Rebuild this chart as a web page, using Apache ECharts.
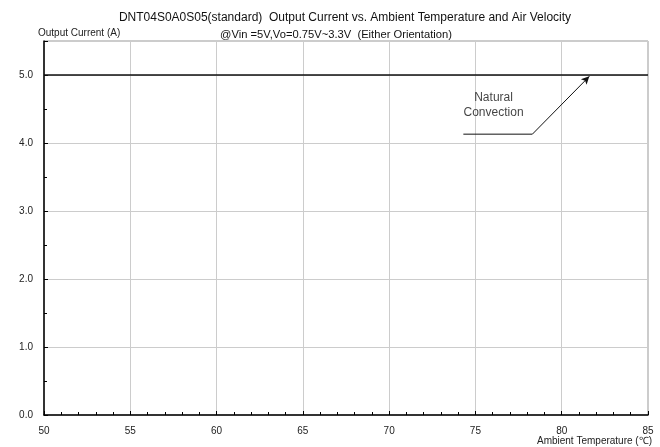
<!DOCTYPE html>
<html><head><meta charset="utf-8">
<script src="https://cdn.jsdelivr.net/npm/echarts@6/dist/echarts.min.js"></script>
<style>html,body{margin:0;padding:0;background:#fff}#c{width:660px;height:447px}</style>
</head><body><div id="c"></div>
<script>
var titleText = 'DNT04S0A0S05(standard)  Output Current vs. Ambient Temperature and Air Velocity';
var subtitleText = '@Vin =5V,Vo=0.75V~3.3V  (Either Orientation)';
var temps = [50, 85];
var currentNatural = [5.0, 5.0];
var leaderPts = [[74.3, 4.13], [78.3, 4.13]];
var arrowFrom = [78.3, 4.13];
var arrowTo = [81.6, 4.98];
var labelPos = [76.05, 4.55];
var labelText = 'Natural\nConvection';

var font = 'Liberation Sans, Arial, sans-serif';
var chart = echarts.init(document.getElementById('c'));
chart.setOption({
  animation: false,
  backgroundColor: '#fff',
  textStyle: {fontFamily: font},
  title: [
    {text: titleText, left: 340, top: 7, textAlign: 'center',
     textStyle: {fontSize: 12, fontWeight: 'normal', color: '#111', fontFamily: font}},
    {text: subtitleText, left: 331, top: 24, textAlign: 'center',
     textStyle: {fontSize: 11.2, fontWeight: 'normal', color: '#111', fontFamily: font}}
  ],
  grid: {left: 44, right: 12, top: 41, bottom: 32, show: true, borderColor: '#999', borderWidth: 1},
  xAxis: {
    type: 'value', min: 50, max: 85, interval: 5,
    name: 'Ambient Temperature (\u2103)', nameLocation: 'end',
    nameGap: 0,
    nameTextStyle: {fontSize: 10, color: '#222', align: 'right', verticalAlign: 'top', padding: [21, -4, 0, 0]},
    axisLine: {lineStyle: {color: '#000', width: 1.5}},
    axisTick: {inside: true, length: 4, lineStyle: {color: '#000'}},
    minorTick: {show: true, splitNumber: 5, length: 3, lineStyle: {color: '#000'}},
    axisLabel: {fontSize: 10, color: '#222', margin: 11},
    splitLine: {show: true, lineStyle: {color: '#ccc', width: 1}}
  },
  yAxis: {
    type: 'value', min: 0, max: 5.5, interval: 1,
    name: 'Output Current (A)', nameLocation: 'end', nameGap: 3,
    nameTextStyle: {fontSize: 10, color: '#222', align: 'left', padding: [0, 0, 0, -6]},
    axisLine: {lineStyle: {color: '#000', width: 1.5}},
    axisTick: {inside: true, length: 4, lineStyle: {color: '#000'}},
    minorTick: {show: true, splitNumber: 2, length: 3, lineStyle: {color: '#000'}},
    axisLabel: {fontSize: 10, color: '#222', margin: 11, showMaxLabel: false,
      formatter: function (v) { return v > 5.2 ? '' : v.toFixed(1); }},
    splitLine: {show: true, lineStyle: {color: '#ccc', width: 1}}
  },
  series: [
    {type: 'line', data: temps.map(function (t, i) { return [t, currentNatural[i]]; }),
     symbol: 'none', lineStyle: {color: '#111', width: 1.3}, silent: true, z: 3},
    {type: 'line', data: leaderPts, symbol: 'none', lineStyle: {color: '#111', width: 1}, silent: true,
     markLine: {silent: true, symbol: ['none', 'arrow'], symbolSize: [6, 8], label: {show: false},
       lineStyle: {color: '#111', width: 1, type: 'solid'},
       data: [[{coord: arrowFrom}, {coord: arrowTo}]]}},
    {type: 'scatter', data: [labelPos], symbolSize: 0, silent: true,
     label: {show: true, position: 'inside', formatter: labelText, fontSize: 12, color: '#111',
       lineHeight: 15, align: 'center'}}
  ]
});
</script></body></html>
